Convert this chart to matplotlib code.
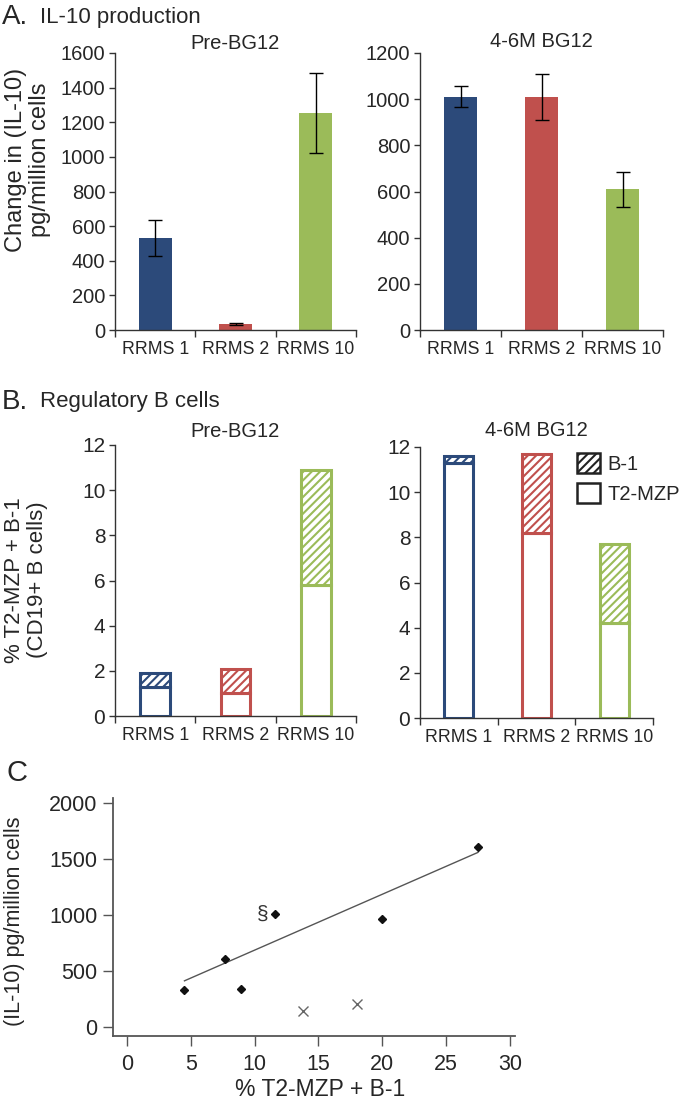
import matplotlib
matplotlib.use("Agg")
from matplotlib import pyplot as plt
from matplotlib.patches import Patch

# 数据
categories = ["RRMS 1", "RRMS 2", "RRMS 10"]
bar_colors = ["#2c4a7a", "#c0504d", "#9bbb59"]

# A. IL-10 production
il10_pre = [530, 35, 1255]
il10_pre_err = [103, 5, 230]
il10_post = [1010, 1008, 610]
il10_post_err = [46, 100, 75]

# B. Regulatory B cells (T2-MZP bottom, total = T2-MZP + B-1)
t2_pre = [1.3, 1.0, 5.8]
total_pre = [1.9, 2.1, 10.9]
t2_post = [11.3, 8.2, 4.2]
total_post = [11.6, 11.7, 7.7]

# C. scatter
breg_x = [4.5, 7.7, 8.9, 11.6, 20.0, 27.5]
il10_y = [335, 610, 340, 1010, 970, 1610]
excl_x = [13.8, 18.0]
excl_y = [150, 205]
trend_x = [4.5, 27.5]
trend_y = [415, 1560]

W, H = 680, 1102
plt.rcParams['font.family'] = ['Liberation Sans', 'DejaVu Sans']
plt.rcParams['hatch.linewidth'] = 1.5
plt.rcParams['text.color'] = '#262626'
plt.rcParams['xtick.color'] = '#262626'
plt.rcParams['ytick.color'] = '#262626'

fig = plt.figure(figsize=(W / 100, H / 100), dpi=100)


def box(x0, y0, x1, y1):
    # 像素框 (左上为原点) -> figure 坐标
    return [x0 / W, 1 - y1 / H, (x1 - x0) / W, (y1 - y0) / H]


def style_cat_axis(ax, tick_size, cat_size):
    for s in ["top", "right"]:
        ax.spines[s].set_visible(False)
    for s in ["left", "bottom"]:
        ax.spines[s].set_color("#333333")
        ax.spines[s].set_linewidth(1.0)
    ax.set_xlim(-0.5, 2.5)
    ax.set_xticks(range(3))
    ax.set_xticklabels(categories, fontsize=cat_size)
    ax.tick_params(axis="x", which="major", length=0, pad=8)
    ax.set_xticks([-0.5, 0.5, 1.5, 2.5], minor=True)
    ax.tick_params(axis="x", which="minor", length=5, width=1.0, color="#333333")
    ax.tick_params(axis="y", length=4, width=1.0, color="#333333", labelsize=tick_size, pad=3)


# ---- A ----
axA1 = fig.add_axes(box(115, 53, 356, 330))
axA1.bar(range(3), il10_pre, width=0.41, color=bar_colors, yerr=il10_pre_err,
         error_kw=dict(ecolor="black", elinewidth=1, capsize=5, capthick=1))
axA1.set_ylim(0, 1600)
axA1.set_yticks(range(0, 1601, 200))
style_cat_axis(axA1, 14.5, 12.8)
axA1.set_title("Pre-BG12", fontsize=14.5, pad=3)

axA2 = fig.add_axes(box(420, 53, 663, 330))
axA2.bar(range(3), il10_post, width=0.40, color=bar_colors, yerr=il10_post_err,
         error_kw=dict(ecolor="black", elinewidth=1, capsize=5, capthick=1))
axA2.set_ylim(0, 1200)
axA2.set_yticks(range(0, 1201, 200))
style_cat_axis(axA2, 14.5, 12.8)
axA2.set_title("4-6M BG12", fontsize=14.5, pad=4)

fig.text(2 / W, 1 - 17 / H, "A.", fontsize=20, va="center", ha="left")
fig.text(40 / W, 1 - 17 / H, "IL-10 production", fontsize=16, va="center", ha="left")
fig.text(28 / W, 1 - 160 / H, "Change in (IL-10)\npg/million cells", fontsize=17,
         rotation=90, va="center", ha="center", multialignment="center", linespacing=1.15)

# ---- B ----
def stacked(ax, t2, total, width):
    b1 = [t - b for t, b in zip(total, t2)]
    ax.bar(range(3), t2, width=width, color="white", edgecolor=bar_colors, linewidth=2.2)
    ax.bar(range(3), b1, bottom=t2, width=width, color="white", edgecolor=bar_colors,
           linewidth=2.2, hatch="////")


axB1 = fig.add_axes(box(115, 445, 356, 716))
stacked(axB1, t2_pre, total_pre, 0.37)
axB1.set_ylim(0, 12)
axB1.set_yticks(range(0, 13, 2))
style_cat_axis(axB1, 15, 12.8)
axB1.set_title("Pre-BG12", fontsize=14.5, pad=6)

axB2 = fig.add_axes(box(420, 447, 653, 718))
stacked(axB2, t2_post, total_post, 0.37)
axB2.set_ylim(0, 12)
axB2.set_yticks(range(0, 13, 2))
style_cat_axis(axB2, 15, 12.8)
axB2.set_title("4-6M BG12", fontsize=14.5, pad=8)

handles = [Patch(facecolor="white", edgecolor="#222222", hatch="////", linewidth=1.8, label="B-1"),
           Patch(facecolor="white", edgecolor="#222222", linewidth=1.8, label="T2-MZP")]
fig.legend(handles=handles, loc="upper left", bbox_to_anchor=(577 / W, 1 - 453 / H),
           frameon=False, fontsize=14.5, handlelength=1.15, handleheight=1.15,
           handletextpad=0.35, labelspacing=0.45, borderpad=0, borderaxespad=0)

fig.text(2 / W, 1 - 402 / H, "B.", fontsize=20, va="center", ha="left")
fig.text(40 / W, 1 - 402 / H, "Regulatory B cells", fontsize=16, va="center", ha="left")
fig.text(26 / W, 1 - 580 / H, "% T2-MZP + B-1\n(CD19+ B cells)", fontsize=16,
         rotation=90, va="center", ha="center", multialignment="center", linespacing=1.15)

# ---- C ----
axC = fig.add_axes(box(113, 798, 515, 1036))
axC.plot(trend_x, trend_y, color="#555555", linewidth=1.0)
axC.plot(breg_x, il10_y, linestyle="none", marker="D", markersize=4,
         color="#111111")
axC.plot(excl_x, excl_y, linestyle="none", marker="x", markersize=7,
         color="#666666", markeredgewidth=1.0)
axC.text(breg_x[3] - 1.0, il10_y[3], "§", fontsize=15, ha="center", va="center", color="#333333")
axC.set_xlim(-1.1, 30.4)
axC.set_ylim(-77, 2045)
axC.set_xticks(range(0, 31, 5))
axC.set_yticks(range(0, 2001, 500))
for s in ["top", "right"]:
    axC.spines[s].set_visible(False)
for s in ["left", "bottom"]:
    axC.spines[s].set_color("#555555")
    axC.spines[s].set_linewidth(1.3)
axC.tick_params(axis="both", length=7, width=1.0, color="#555555", labelsize=15.5)
axC.tick_params(axis="x", pad=6)
axC.tick_params(axis="y", pad=4)
fig.text(320 / W, 1 - 1090 / H, "% T2-MZP + B-1", fontsize=16.5, ha="center", va="center")
fig.text(15 / W, 1 - 921 / H, "(IL-10) pg/million cells", fontsize=15.5, rotation=90,
         ha="center", va="center")
fig.text(6 / W, 1 - 773 / H, "C", fontsize=21, ha="left", va="center")

plt.savefig("out.png", dpi=100)
